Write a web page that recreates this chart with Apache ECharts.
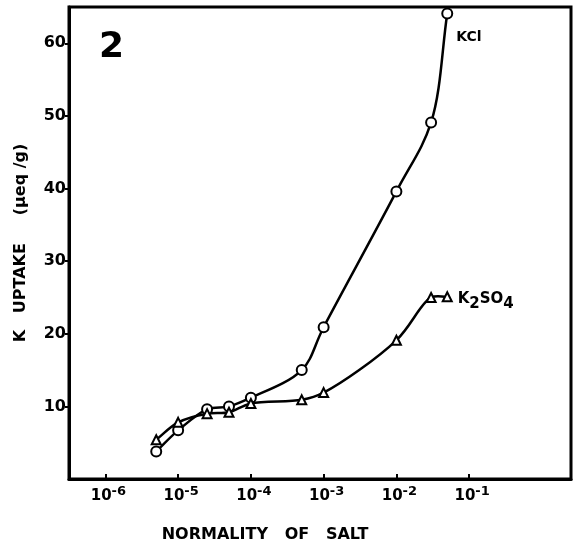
<!DOCTYPE html>
<html>
<head>
<meta charset="utf-8">
<title>K uptake vs normality of salt</title>
<script src="https://cdn.jsdelivr.net/npm/echarts@6/dist/echarts.min.js"></script>
<style>
  html, body { margin: 0; padding: 0; background: #fff; }
  #chart { width: 574px; height: 546px; }
</style>
</head>
<body>
<div id="chart"></div>
<script>
// normality of salt (N) and K uptake (µeq/g)
const kclNormality = [5e-6, 1e-5, 2.5e-5, 5e-5, 1e-4, 5e-4, 1e-3, 1e-2, 3e-2, 5e-2];
const kclUptake = [3.8, 6.7, 9.6, 10.0, 11.2, 15.0, 20.9, 39.6, 49.1, 64.1];
const k2so4Normality = [5e-6, 1e-5, 2.5e-5, 5e-5, 1e-4, 5e-4, 1e-3, 1e-2, 3e-2, 5e-2];
const k2so4Uptake = [5.4, 7.8, 9.0, 9.2, 10.4, 10.9, 11.9, 19.1, 25.0, 25.1];
const xTicks = [1e-6, 1e-5, 1e-4, 1e-3, 1e-2, 1e-1];
const yTicks = [10, 20, 30, 40, 50, 60];

const font = "DejaVu Sans";

// centripetal catmull-rom through pixel points -> svg path
function splinePath(p) {
  const n = p.length;
  const dist = (a, b) => Math.sqrt(Math.hypot(b[0] - a[0], b[1] - a[1])) || 1e-6;
  let d = "M" + p[0][0] + " " + p[0][1];
  for (let i = 0; i < n - 1; i++) {
    const p1 = p[i], p2 = p[i + 1];
    const p0 = i > 0 ? p[i - 1] : [2 * p1[0] - p2[0], 2 * p1[1] - p2[1]];
    const p3 = i < n - 2 ? p[i + 2] : [2 * p2[0] - p1[0], 2 * p2[1] - p1[1]];
    const d1 = dist(p0, p1), d2 = dist(p1, p2), d3 = dist(p2, p3);
    const b1 = [0, 1].map(k =>
      (d1 * d1 * p2[k] - d2 * d2 * p0[k] + (2 * d1 * d1 + 3 * d1 * d2 + d2 * d2) * p1[k]) / (3 * d1 * (d1 + d2)));
    const b2 = [0, 1].map(k =>
      (d3 * d3 * p1[k] - d2 * d2 * p3[k] + (2 * d3 * d3 + 3 * d3 * d2 + d2 * d2) * p2[k]) / (3 * d3 * (d3 + d2)));
    d += " C" + b1[0] + " " + b1[1] + " " + b2[0] + " " + b2[1] + " " + p2[0] + " " + p2[1];
  }
  return d;
}

function curveSeries(xs, ys) {
  return {
    type: "custom",
    data: [[xs[0], ys[0]]],
    silent: true,
    z: 1,
    renderItem: (params, api) => {
      const pts = xs.map((x, i) => api.coord([x, ys[i]]));
      return {
        type: "path",
        shape: { pathData: splinePath(pts) },
        style: { fill: "none", stroke: "#000", lineWidth: 2.5 }
      };
    }
  };
}

function pointSeries(name, xs, ys, symbol, size, label) {
  const data = xs.map((x, i) => [x, ys[i]]);
  data[data.length - 1] = { value: data[data.length - 1], label: Object.assign({ show: true, position: "right" }, label) };
  return {
    name: name,
    type: "scatter",
    data: data,
    symbol: symbol,
    symbolSize: size,
    itemStyle: { color: "#fff", borderColor: "#000", borderWidth: 2, opacity: 1 },
    z: 3
  };
}

const chart = echarts.init(document.getElementById("chart"));
chart.setOption({
  animation: false,
  grid: {
    left: 69, right: 3, top: 7, bottom: 67,
    show: true, borderColor: "#000", borderWidth: 3, backgroundColor: "#fff"
  },
  xAxis: {
    type: "log",
    logBase: 10,
    min: Math.pow(10, -6.5),
    max: Math.pow(10, 0.4),
    axisLine: { lineStyle: { color: "#000", width: 3 } },
    axisTick: { inside: true, length: 5, lineStyle: { color: "#000", width: 2 }, customValues: xTicks },
    splitLine: { show: false },
    axisLabel: {
      customValues: xTicks,
      margin: 6,
      formatter: v => "{b|10}{s|-" + Math.abs(Math.round(Math.log10(v))) + "}",
      rich: {
        b: { fontFamily: font, fontSize: 15, fontWeight: "bold", color: "#000", padding: [0, 0, 0, 6] },
        s: { fontFamily: font, fontSize: 13, fontWeight: "bold", color: "#000", padding: [0, 0, 10, 0] }
      }
    }
  },
  yAxis: {
    type: "value",
    min: 0,
    max: 65,
    name: "K   UPTAKE     (μeq /g)",
    nameLocation: "middle",
    nameGap: 40,
    nameTextStyle: { fontFamily: font, fontSize: 16, fontWeight: "bold", color: "#000" },
    axisLine: { show: true, lineStyle: { color: "#000", width: 3 } },
    axisTick: { show: true, length: 4, lineStyle: { color: "#000", width: 2 }, customValues: yTicks },
    splitLine: { show: false },
    axisLabel: { customValues: yTicks, margin: 3, fontFamily: font, fontSize: 16, fontWeight: "bold", color: "#000" }
  },
  graphic: [
    { type: "text", left: 99, top: 30, style: { text: "2", font: "bold 36px " + font, fill: "#000" } },
    { type: "text", x: 265, y: 535, style: { text: "NORMALITY   OF   SALT", font: "bold 16px " + font, fill: "#000", align: "center", verticalAlign: "middle" } }
  ],
  series: [
    curveSeries(kclNormality, kclUptake),
    curveSeries(k2so4Normality, k2so4Uptake),
    pointSeries("KCl", kclNormality, kclUptake, "circle", 10, {
      formatter: "KCl", offset: [-2, 24],
      fontFamily: font, fontSize: 14, fontWeight: "bold", color: "#000"
    }),
    pointSeries("K2SO4", k2so4Normality, k2so4Uptake, "triangle", 9, {
      formatter: "{a|K}{s|2}{a|SO}{s|4}", offset: [0, 2],
      rich: {
        a: { fontFamily: font, fontSize: 15, fontWeight: "bold", color: "#000" },
        s: { fontFamily: font, fontSize: 15, fontWeight: "bold", color: "#000", padding: [10, 0, 0, 0] }
      }
    })
  ]
});
</script>
</body>
</html>
